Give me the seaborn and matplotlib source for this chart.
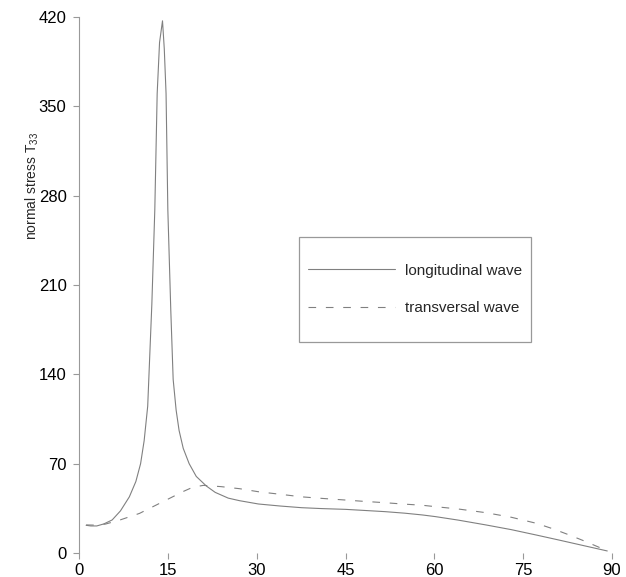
import matplotlib
matplotlib.use("Agg")
import matplotlib.pyplot as plt
import seaborn as sns
from matplotlib.patches import Rectangle

# values
long_x = [1.2, 2.0, 3.0, 4.2, 5.6, 7.0, 8.5, 9.6, 10.4, 11.0, 11.6, 12.3, 12.8, 13.2, 13.6,
          14.1, 14.4, 14.7, 15.0, 15.5, 15.9, 16.4, 16.9, 17.6, 18.6, 19.8, 21.5, 23.0, 25.2,
          27.1, 30.3, 34.0, 37.6, 41.0, 45.0, 48.0, 51.7, 55.0, 58.0, 60.2, 64.0, 68.7, 73.0,
          77.2, 81.0, 85.0, 89.2]
long_y = [21.7, 21.2, 21.2, 22.8, 25.9, 33.0, 44.0, 56.0, 70.0, 88.0, 115.0, 195.0, 269.0,
          360.0, 400.0, 417.0, 395.0, 360.0, 269.0, 190.0, 136.0, 112.0, 96.0, 82.0, 70.0,
          60.0, 52.5, 47.5, 43.0, 41.0, 38.4, 36.8, 35.5, 34.8, 34.2, 33.4, 32.4, 31.2, 29.8,
          28.5, 25.8, 22.0, 18.3, 14.1, 10.2, 6.0, 1.6]

trans_x = [1.2, 3.0, 4.5, 7.0, 10.2, 13.0, 15.8, 17.5, 19.2, 21.0, 24.0, 27.1, 30.3, 34.0,
           37.6, 41.0, 45.0, 48.0, 51.7, 54.6, 58.0, 60.2, 64.0, 68.7, 73.0, 77.2, 80.0,
           82.8, 85.0, 87.3, 88.8]
trans_y = [22.0, 21.8, 22.7, 26.0, 31.0, 37.5, 44.0, 48.0, 51.5, 53.0, 52.0, 50.4, 48.0,
           46.0, 44.0, 42.8, 41.5, 40.5, 39.4, 38.4, 37.4, 36.3, 34.5, 31.6, 28.0, 23.3,
           19.0, 14.1, 10.0, 5.5, 2.5]

x_ticks = [0, 15, 30, 45, 60, 75, 90]
y_ticks = [0, 70, 140, 210, 280, 350, 420]
series_names = ["longitudinal wave", "transversal wave"]
y_title = "normal stress T$_{33}$"

sns.set_style("ticks")
plt.rcParams["font.family"] = ["Liberation Sans", "DejaVu Sans"]
plt.rcParams["mathtext.default"] = "regular"
plt.rcParams["lines.scale_dashes"] = False

W, H = 626, 577
fig = plt.figure(figsize=(W / 100, H / 100), dpi=100)
ax = fig.add_axes([79 / W, 1 - 553 / H, (612 - 79) / W, (553 - 17) / H])

line_col = "#808080"
sns.lineplot(x=long_x, y=long_y, ax=ax, color=line_col, lw=0.8, sort=False,
             estimator=None, label=series_names[0])
sns.lineplot(x=trans_x, y=trans_y, ax=ax, color=line_col, lw=0.8, sort=False,
             estimator=None, label=series_names[1])
ax.lines[1].set_dashes((5.5, 7))

ax.set_xlim(0, 90)
ax.set_ylim(0, 420)
ax.set_xticks(x_ticks)
ax.set_yticks(y_ticks)
ax.tick_params(axis="both", colors="#999999", labelcolor="black", labelsize=12,
               length=4, width=0.8, direction="out")
ax.tick_params(axis="y", pad=5)
ax.tick_params(axis="x", pad=3)
for s in ["top", "right", "bottom"]:
    ax.spines[s].set_visible(False)
ax.spines["left"].set_color("#999999")
ax.spines["left"].set_linewidth(0.8)
ax.set_xlabel("")
ax.set_ylabel("")

fig.text(32 / W, 1 - 186 / H, y_title, rotation=90, ha="center", va="center", fontsize=10)

# legend box frame drawn separately
def px(xp, yp):
    return ((xp - 79) / (612 - 79), (553 - yp) / (553 - 17))

x0, y0 = px(299, 342)
x1, y1 = px(531, 237)
ax.add_patch(Rectangle((x0, y0), x1 - x0, y1 - y0, transform=ax.transAxes,
                       facecolor="white", edgecolor="#999999", lw=0.9, zorder=4))
leg = ax.legend(loc="center", bbox_to_anchor=px(415, 289.5), frameon=False,
                fontsize=11, handlelength=5.7, handletextpad=0.65, labelspacing=1.55,
                borderpad=0.2)
leg.set_zorder(5)
for h in leg.get_lines():
    h.set_linewidth(0.8)

fig.savefig("out.png", dpi=100)
